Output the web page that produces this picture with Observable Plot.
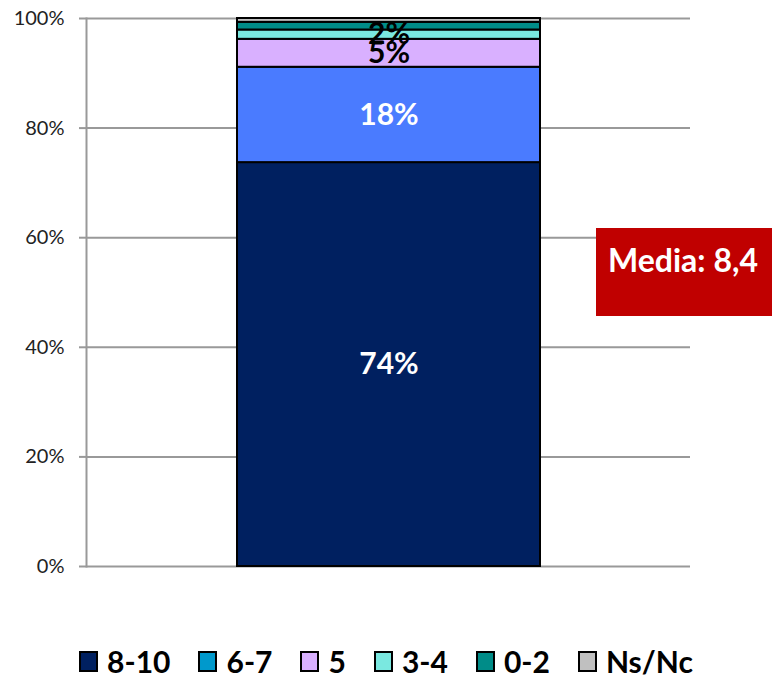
<!DOCTYPE html>
<html><head><meta charset="utf-8">
<script src="https://cdn.jsdelivr.net/npm/d3@7"></script>
<script src="https://cdn.jsdelivr.net/npm/@observablehq/plot@0.6"></script>
<style>
body{margin:0;background:#fff;font-family:Lato,"Open Sans",sans-serif;}
#wrap{position:relative;width:772px;height:684px;}
#media{position:absolute;left:596px;top:228px;width:176px;height:88px;background:#C00000;color:#fff;font-weight:bold;font-size:32px;line-height:1;box-sizing:border-box;padding-top:16px;padding-left:12px;text-align:left;white-space:nowrap;}
#legend{position:absolute;left:0;top:646px;width:772px;display:flex;justify-content:center;align-items:center;font-weight:bold;font-size:30px;line-height:1;color:#000;}
.item{display:flex;align-items:center;margin:0 14px;}
.sw{width:15px;height:17px;border:2px solid #000;margin-right:9px;}
</style></head>
<body><div id="wrap"><div id="chart"></div><div id="media"></div><div id="legend"></div></div>
<script>
const categories = ["8-10","6-7","5","3-4","0-2","Ns/Nc"];
const values = [73.7, 17.4, 5.1, 1.7, 1.4, 0.7];
const labels = ["74%","18%","5%","2%","",""];
const barColors = ["#002060","#4A7BFF","#D9B0FF","#7AE8E0","#008C88","#C0C0C0"];
const legendColors = ["#002060","#0099CC","#D9B0FF","#7AE8E0","#008C88","#C0C0C0"];
const yTicks = [0,20,40,60,80,100];
const mediaText = "Media: 8,4";

const data = categories.map((c,i)=>({q:"P", cat:c, value:values[i], label:labels[i]}));

const chart = Plot.plot({
  width:772, height:620,
  marginTop:18, marginBottom:54, marginLeft:86, marginRight:82,
  style:{fontFamily:"Lato, 'Open Sans', sans-serif", background:"#fff"},
  x:{type:"band", domain:["P"], padding:0.332, axis:null},
  y:{domain:[0,100]},
  color:{domain:categories, range:barColors},
  marks:[
    Plot.gridY(yTicks,{stroke:"#999", strokeOpacity:1, strokeWidth:2}),
    Plot.frame({anchor:"left", stroke:"#999", strokeWidth:2}),
    Plot.axisY(yTicks,{tickSize:7, stroke:"#999", strokeWidth:2, tickPadding:15, tickFormat:d=>d+"%", fontSize:20, fill:"#222", label:null}),
    Plot.barY(data, Plot.stackY({x:"q", y:"value", fill:"cat", stroke:"#000", strokeWidth:2})),
    Plot.text(data, Plot.stackY({x:"q", y:"value", text:"label", fill:d=>d.value>10?"white":"black", fontSize:30, fontWeight:"bold"}))
  ]
});
document.getElementById("chart").appendChild(chart);
document.getElementById("media").textContent = mediaText;
const lg = document.getElementById("legend");
categories.forEach((c,i)=>{
  const it=document.createElement("div"); it.className="item";
  const sw=document.createElement("div"); sw.className="sw"; sw.style.background=legendColors[i];
  const t=document.createElement("span"); t.textContent=c;
  it.appendChild(sw); it.appendChild(t); lg.appendChild(it);
});
</script></body></html>
